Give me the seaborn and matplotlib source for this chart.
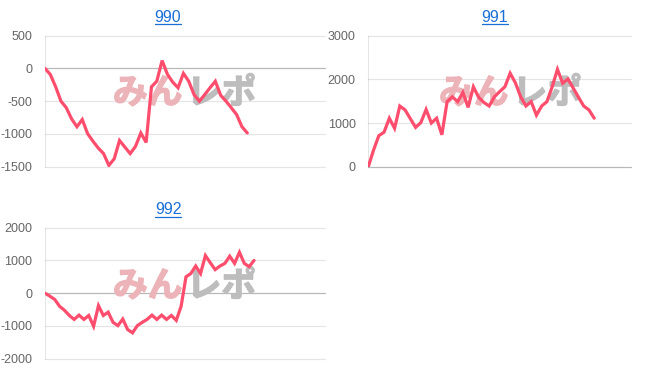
import numpy as np
import pandas as pd
import seaborn as sns
import matplotlib
matplotlib.use("Agg")
import matplotlib.pyplot as plt
from matplotlib.lines import Line2D
import matplotlib.patheffects as pe

titles = ["990", "991", "992"]

s990 = [0, -92, -280, -500, -600, -770, -890, -780, -995, -1110, -1215, -1300,
        -1480, -1380, -1100, -1200, -1300, -1190, -985, -1130, -280, -195, 120,
        -90, -210, -295, -75, -195, -400, -500, -400, -295, -195, -410, -500,
        -600, -705, -890, -985]

s991 = [0, 380, 710, 790, 1110, 880, 1390, 1300, 1100, 900, 1010, 1310, 1000,
        1110, 730, 1490, 1600, 1490, 1700, 1360, 1830, 1590, 1470, 1390, 1600,
        1720, 1830, 2140, 1920, 1600, 1390, 1490, 1180, 1390, 1490, 1830, 2230,
        1910, 2010, 1800, 1590, 1390, 1300, 1110]

s992 = [0, -90, -190, -400, -520, -680, -800, -670, -800, -680, -1010, -380,
        -680, -580, -890, -990, -790, -1110, -1210, -990, -890, -800, -670, -800,
        -670, -800, -680, -830, -400, 500, 600, 830, 600, 1150, 930, 720, 830,
        910, 1130, 910, 1250, 910, 810, 1000]

yticks990 = [-1500, -1000, -500, 0, 500]
yticks991 = [0, 1000, 2000, 3000]
yticks992 = [-2000, -1000, 0, 1000, 2000]

sns.set_theme(style="white")
plt.rcParams["font.family"] = ["Liberation Sans", "DejaVu Sans"]
plt.rcParams["axes.unicode_minus"] = False

W, H = 652, 382
fig = plt.figure(figsize=(W / 100, H / 100), dpi=100)


def add_ax(l, t, r, b):
    return fig.add_axes([l / W, 1 - b / H, (r - l) / W, (b - t) / H])


LINE = "#ff4d6d"
GRID = (0, 0, 0, 0.1)
ZERO = (0, 0, 0, 0.28)
LINK = "#1a6fd6"

panels = [
    (titles[0], s990, yticks990, (45, 35.7, 325, 166.7), 52.6, (0.496, 0.563), (168, 17)),
    (titles[1], s991, yticks991, (368.3, 35.7, 631, 166.7), 50.0, (0.539, 0.563), (495, 17)),
    (titles[2], s992, yticks992, (45, 227.7, 325, 358.7), 57.6, (0.496, 0.555), (168, 210)),
]

title_texts = []
for title, vals, yt, box, xmax, wm, tpos in panels:
    ax = add_ax(*box)
    df = pd.DataFrame({"x": np.arange(len(vals)), "y": vals})
    sns.lineplot(data=df, x="x", y="y", ax=ax, color=LINE, linewidth=2.3,
                 zorder=3, solid_joinstyle="miter")
    ax.set_xlim(0, xmax)
    ax.set_ylim(yt[0], yt[-1])
    ax.set_yticks(yt)
    ax.set_yticklabels([str(v) for v in yt])
    ax.set_xticks([])
    ax.set_xlabel("")
    ax.set_ylabel("")
    for s in ["top", "right", "bottom"]:
        ax.spines[s].set_visible(False)
    ax.spines["left"].set_color(GRID)
    ax.spines["left"].set_linewidth(0.8)
    for v in yt:
        ax.axhline(v, color=ZERO if v == 0 else GRID, linewidth=0.9,
                   zorder=1, clip_on=False)
    ax.tick_params(axis="y", length=7.5, width=0.8, color=GRID,
                   labelcolor="#666666", labelsize=9, pad=1.5)
    # watermark
    pink, grey = "#ecb4b8", "#bdbdbd"
    ax.text(wm[0] - 0.005, wm[1], "みん", transform=ax.transAxes, ha="right", va="center",
            fontsize=25, fontweight="bold", color=pink,
            family=["Noto Sans CJK JP", "DejaVu Sans"], zorder=2,
            path_effects=[pe.withStroke(linewidth=1.0, foreground=pink)])
    ax.text(wm[0] + 0.01, wm[1], "レポ", transform=ax.transAxes, ha="left", va="center",
            fontsize=25, fontweight="bold", color=grey,
            family=["Noto Sans CJK JP", "DejaVu Sans"], zorder=2,
            path_effects=[pe.withStroke(linewidth=1.0, foreground=grey)])
    t = fig.text(tpos[0] / W, 1 - tpos[1] / H, title, ha="center", va="center",
                 fontsize=11.5, color=LINK)
    title_texts.append(t)

fig.canvas.draw()
r = fig.canvas.get_renderer()
for t in title_texts:
    bb = t.get_window_extent(r)
    y = bb.y0 + 0.5
    fig.add_artist(Line2D([bb.x0 / W, bb.x1 / W], [y / H, y / H],
                          transform=fig.transFigure, color=LINK, linewidth=0.9))

fig.savefig("out.png", dpi=100, facecolor="white")
